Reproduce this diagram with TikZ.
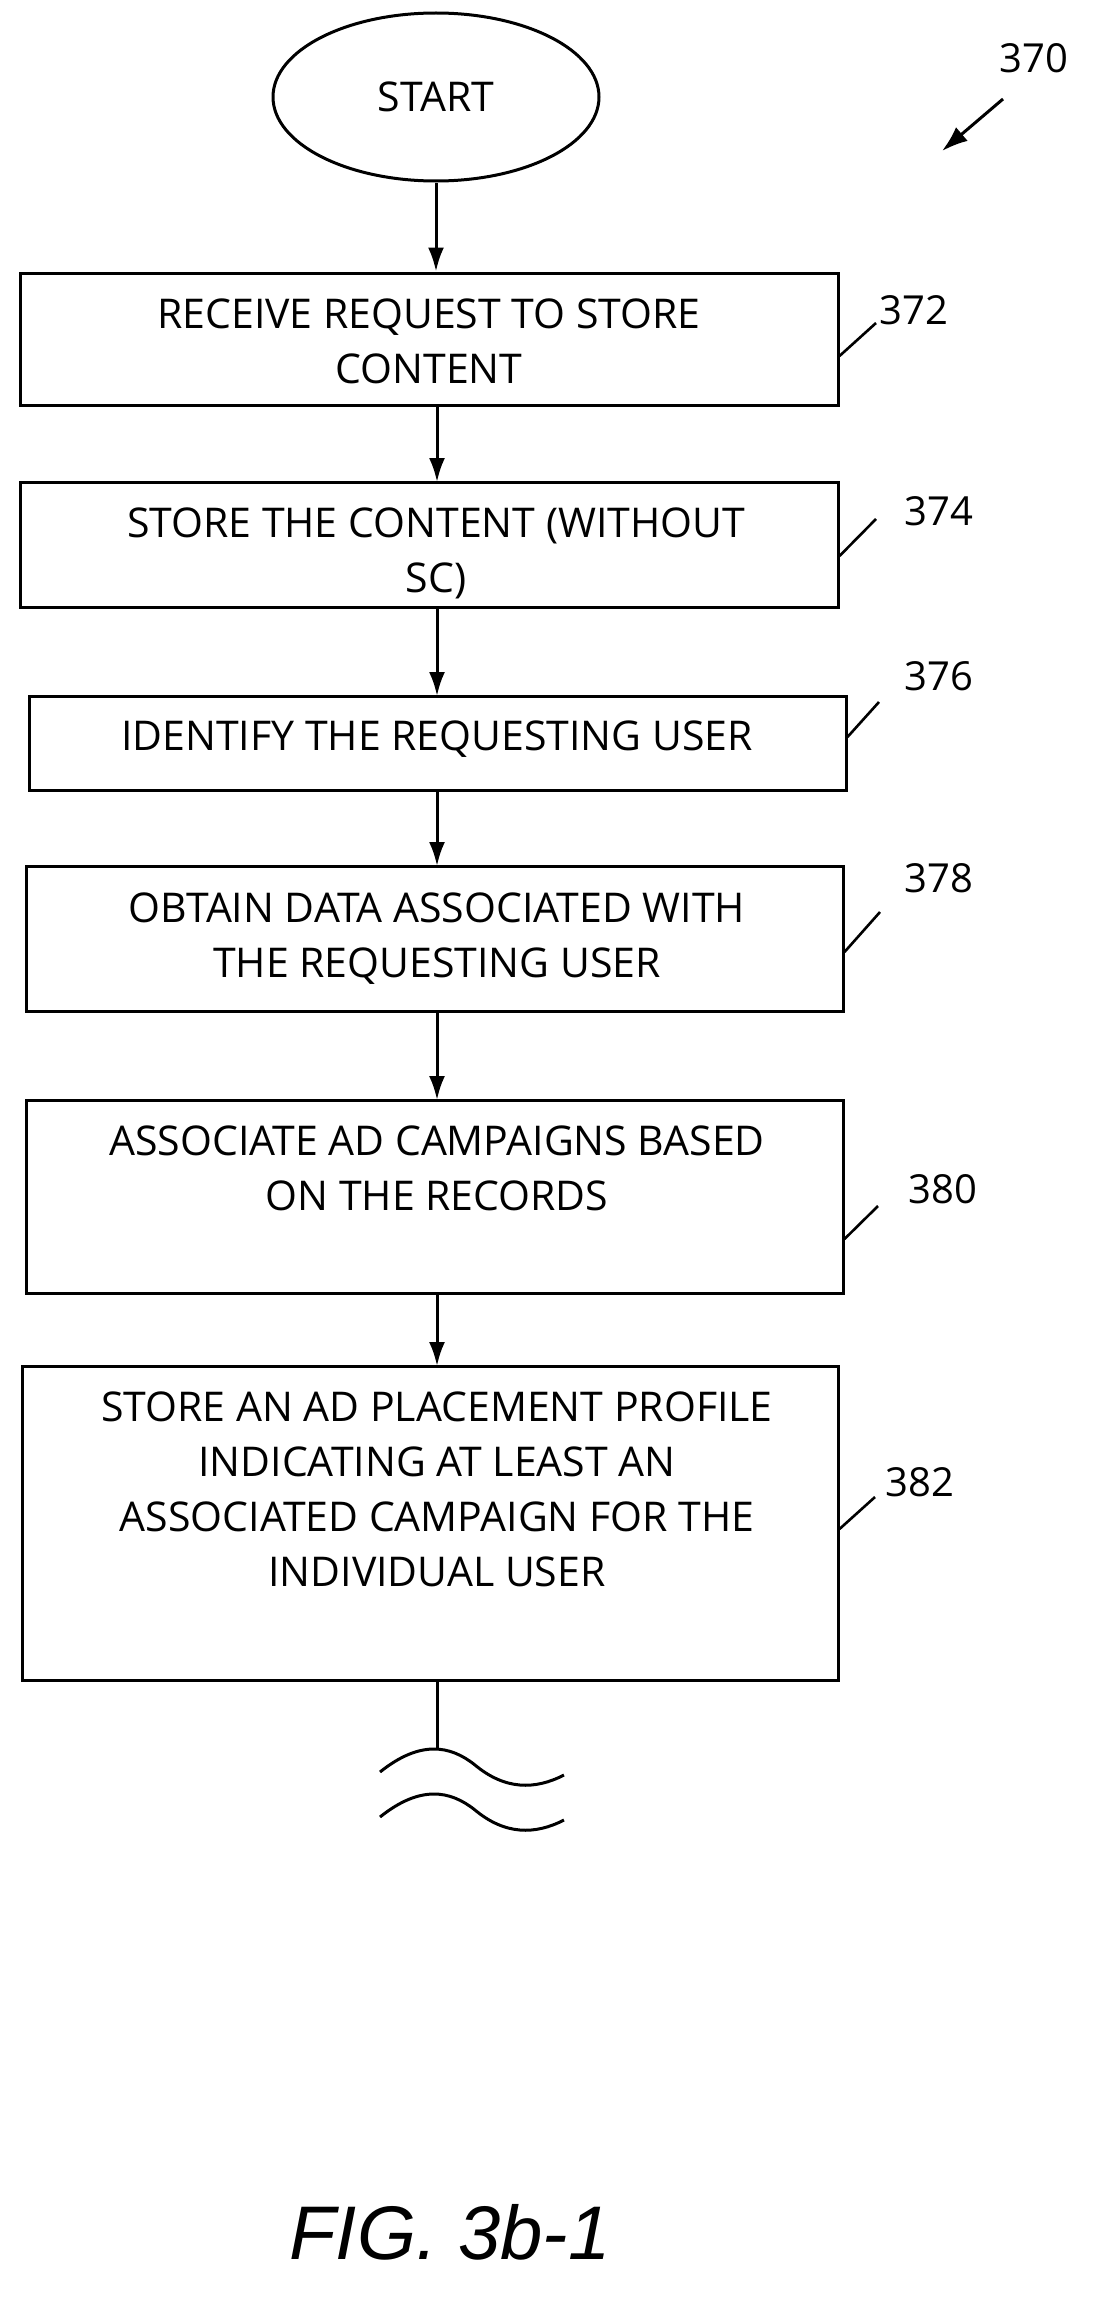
\documentclass[tikz,border=0pt]{standalone}
\usepackage{fontspec}
\setmainfont{Open Sans}
\newfontfamily\figfont{Liberation Sans}
\usetikzlibrary{arrows.meta,shapes.geometric}
\begin{document}
\begin{tikzpicture}[x=1pt,y=-1pt,
  box/.style={draw,line width=3pt,rectangle,inner sep=0pt},
  txt/.style={font=\fontsize{41}{55}\selectfont,align=center,anchor=center,inner sep=0pt},
  num/.style={font=\fontsize{40}{44}\selectfont,inner sep=0pt},
  lead/.style={line width=2.6pt},
  arr/.style={line width=3pt,-{Latex[length=24pt,width=16pt]}}]
\useasboundingbox (0,0) rectangle (1119,2304);
\node[draw,line width=3pt,ellipse,minimum width=326pt,minimum height=168pt,inner sep=0pt] (s) at (436,97) {};
\node[txt] (st) at (436,97) {START};
\node[box,minimum width=818pt,minimum height=132pt] (b1) at (429,339) {};
\node[box,minimum width=818pt,minimum height=125pt] (b2) at (429,544.5) {};
\node[box,minimum width=817pt,minimum height=94pt] (b3) at (437.5,743) {};
\node[box,minimum width=817pt,minimum height=145pt] (b4) at (434.5,938.5) {};
\node[box,minimum width=817pt,minimum height=193pt] (b5) at (434.5,1196.5) {};
\node[box,minimum width=816pt,minimum height=314pt] (b6) at (430,1523) {};
\node[txt,anchor=north] (t1) at (429,299) {RECEIVE REQUEST TO STORE\\CONTENT};
\begin{scope}
\clip (b2.north west) rectangle (b2.south east);
\node[txt,anchor=north] (t2) at (436,508) {STORE THE CONTENT (WITHOUT\\SC)};
\end{scope}
\node[txt,anchor=north] (t3) at (437,721) {IDENTIFY THE REQUESTING USER};
\node[txt,anchor=north] (t4) at (437,893) {OBTAIN DATA ASSOCIATED WITH\\THE REQUESTING USER};
\node[txt,anchor=north] (t5) at (437,1126) {ASSOCIATE AD CAMPAIGNS BASED\\ON THE RECORDS};
\node[txt,anchor=north] (t6) at (437,1392) {STORE AN AD PLACEMENT PROFILE\\INDICATING AT LEAST AN\\ASSOCIATED CAMPAIGN FOR THE\\INDIVIDUAL USER};
\draw[arr] (s.south) -- (s.south |- b1.north);
\draw[arr] (437,405) -- (437,482);
\draw[arr] (437,607) -- (437,696);
\draw[arr] (437,790) -- (437,866);
\draw[arr] (437,1011) -- (437,1100);
\draw[arr] (437,1293) -- (437,1366);
\coordinate (w) at (437,1750);
\draw[line width=3pt] (b6.south -| w) -- (w);
\draw[line width=3pt] (380,1772) .. controls (420,1740) and (450,1745) .. (475,1765) .. controls (505,1790) and (535,1790) .. (564,1775);
\draw[line width=3pt] (380,1817) .. controls (420,1785) and (450,1790) .. (475,1810) .. controls (505,1835) and (535,1835) .. (564,1820);
\node[num] (n370) at (1034,58) {370};
\coordinate (a0) at (1003,99);
\coordinate (a1) at (942,151);
\draw[line width=3pt,-{Latex[length=26pt,width=18pt]}] (a0) -- (a1);
\node[num] (n372) at (914,310) {372};
\draw[lead] (b1.east |- 0,356) -- (876,323);
\node[num] (n374) at (939,511) {374};
\draw[lead] (b2.east |- 0,556) -- (876,519);
\node[num] (n376) at (939,676) {376};
\draw[lead] (b3.east |- 0,737) -- (879,702);
\node[num] (n378) at (939,878) {378};
\draw[lead] (b4.east |- 0,952) -- (880,912);
\node[num] (n380) at (943,1189) {380};
\draw[lead] (b5.east |- 0,1239) -- (878,1206);
\node[num] (n382) at (920,1482) {382};
\draw[lead] (b6.east |- 0,1529) -- (875,1497);
\node[font=\fontsize{76}{80}\selectfont\figfont\itshape,inner sep=0pt] (fig) at (450,2232) {FIG. 3b-1};
\end{tikzpicture}
\end{document}
